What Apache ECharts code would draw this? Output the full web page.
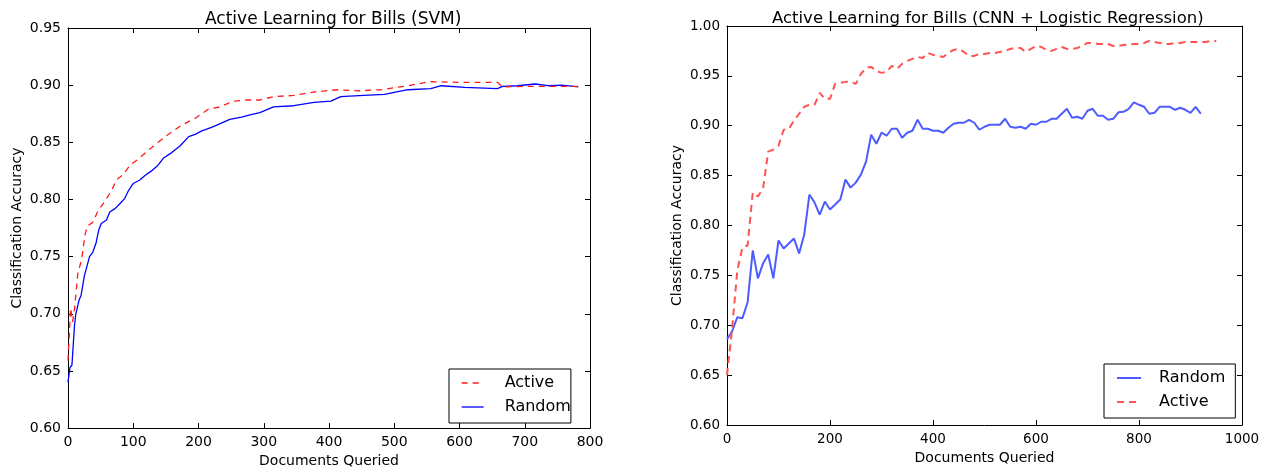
<!DOCTYPE html>
<html>
<head>
<meta charset="utf-8">
<script src="https://cdn.jsdelivr.net/npm/echarts@6/dist/echarts.min.js"></script>
<style>html,body{margin:0;padding:0;background:#fff}#c{width:1272px;height:473px}</style>
</head>
<body>
<div id="c"></div>
<script>
// ---- Left chart: Active Learning for Bills (SVM)
const svmActiveX = [0, 4, 7, 10, 15, 21, 26, 30, 38, 46, 56, 67, 74, 85, 95, 107, 123, 138, 154, 174, 195, 215, 233, 253, 274, 294, 315, 346, 377, 413, 444, 480, 521, 554, 597, 658, 666, 710, 751, 785];
const svmActiveY = [0.659, 0.705, 0.693, 0.704, 0.735, 0.748, 0.769, 0.777, 0.780, 0.790, 0.798, 0.808, 0.817, 0.822, 0.830, 0.835, 0.843, 0.850, 0.857, 0.865, 0.871, 0.879, 0.881, 0.886, 0.887, 0.887, 0.890, 0.891, 0.894, 0.896, 0.895, 0.896, 0.8995, 0.903, 0.9025, 0.9025, 0.8985, 0.899, 0.899, 0.899];
const svmRandomX = [0, 3, 6, 10, 12, 17, 20, 25, 33, 38, 43, 47, 51, 59, 64, 72, 79, 87, 92, 100, 110, 118, 128, 138, 146, 159, 172, 185, 195, 205, 220, 228, 248, 266, 279, 294, 315, 346, 377, 403, 418, 453, 485, 521, 556, 572, 608, 658, 666, 689, 716, 736, 757, 782];
const svmRandomY = [0.640, 0.653, 0.655, 0.690, 0.700, 0.712, 0.716, 0.733, 0.750, 0.754, 0.762, 0.773, 0.779, 0.782, 0.789, 0.792, 0.796, 0.801, 0.807, 0.814, 0.817, 0.821, 0.825, 0.830, 0.836, 0.841, 0.847, 0.855, 0.857, 0.860, 0.863, 0.865, 0.870, 0.872, 0.874, 0.876, 0.881, 0.882, 0.885, 0.886, 0.890, 0.891, 0.892, 0.896, 0.897, 0.8995, 0.898, 0.897, 0.899, 0.8995, 0.901, 0.8995, 0.900, 0.8985];

// ---- Right chart: Active Learning for Bills (CNN + Logistic Regression)
const cnnRandomX = [0,10,20,30,40,50,60,70,80,90,100,110,120,130,140,150,160,170,180,190,200,210,220,230,240,250,260,270,280,290,300,310,320,330,340,350,360,370,380,390,400,410,420,430,440,450,460,470,480,490,500,510,520,530,540,550,560,570,580,590,600,610,620,630,640,650,660,670,680,690,700,710,720,730,740,750,760,770,780,790,800,810,820,830,840,850,860,870,880,890,900,910,920];
const cnnRandomY = [0.686,0.694,0.708,0.707,0.723,0.775,0.747,0.762,0.771,0.747,
 0.785,0.777,0.782,0.787,0.772,0.791,0.831,0.823,0.811,0.824,
 0.816,0.821,0.826,0.846,0.838,0.843,0.851,0.864,0.891,0.882,
 0.893,0.890,0.897,0.897,0.888,0.893,0.895,0.906,0.897,0.897,
 0.895,0.895,0.893,0.898,0.902,0.903,0.903,0.906,0.903,0.896,
 0.899,0.901,0.901,0.901,0.907,0.899,0.898,0.899,0.897,0.902,
 0.901,0.904,0.904,0.907,0.907,0.912,0.917,0.908,0.909,0.907,
 0.915,0.917,0.910,0.910,0.906,0.907,0.9135,0.914,0.917,0.9235,
 0.921,0.919,0.912,0.913,0.919,0.919,0.919,0.916,0.918,0.916,
 0.913,0.919,0.912];
const cnnActiveX = [0,10,20,30,40,50,60,70,80,90,100,110,120,130,140,150,160,170,180,190,200,210,220,230,240,250,260,270,280,290,300,310,320,330,340,350,360,370,380,390,400,410,420,430,440,450,460,470,480,490,500,510,520,530,540,550,560,570,580,590,600,610,620,630,640,650,660,670,680,690,700,710,720,730,740,750,760,770,780,790,800,810,820,830,840,850,860,870,880,890,900,910,920,930,940,950];
const cnnActiveY = [0.650,0.697,0.755,0.778,0.780,0.833,0.829,0.837,0.874,0.876,
 0.880,0.896,0.897,0.905,0.912,0.919,0.921,0.921,0.933,0.927,
 0.927,0.942,0.943,0.944,0.944,0.942,0.952,0.958,0.959,0.955,
 0.953,0.954,0.960,0.957,0.962,0.965,0.967,0.969,0.968,0.973,
 0.971,0.970,0.969,0.973,0.976,0.977,0.974,0.970,0.970,0.972,
 0.972,0.973,0.973,0.974,0.975,0.977,0.978,0.978,0.974,0.977,
 0.980,0.979,0.976,0.975,0.977,0.979,0.977,0.977,0.978,0.980,
 0.983,0.983,0.982,0.982,0.982,0.980,0.980,0.981,0.9815,0.982,
 0.982,0.983,0.985,0.984,0.983,0.982,0.982,0.983,0.983,0.984,
 0.984,0.984,0.984,0.984,0.985,0.985];

const titles = ['Active Learning for Bills (SVM)', 'Active Learning for Bills (CNN + Logistic Regression)'];
const xName = 'Documents Queried';
const yName = 'Classification Accuracy';

const zip = (xs, ys) => xs.map((x, i) => [x, ys[i]]);
const FONT = 'DejaVu Sans';

function xAx(gi, min, max, interval, top, fs) {
  return {
    type: 'value', gridIndex: gi, min, max, interval,
    position: top ? 'top' : 'bottom',
    name: top ? '' : xName, nameLocation: 'middle', nameGap: 25,
    nameTextStyle: {fontFamily: FONT, fontSize: 14, color: '#000'},
    axisLine: {show: true, onZero: false, lineStyle: {color: '#000', width: 1}},
    axisTick: {show: true, inside: true, length: 5, lineStyle: {color: '#000'}},
    axisLabel: {show: !top, fontFamily: FONT, fontSize: fs, color: '#000', margin: 7, showMinLabel: true, showMaxLabel: true,
      formatter: v => String(v)},
    splitLine: {show: false}
  };
}
function yAx(gi, min, max, interval, right, fs, gap) {
  return {
    type: 'value', gridIndex: gi, min, max, interval,
    position: right ? 'right' : 'left',
    name: right ? '' : yName, nameLocation: 'middle', nameGap: gap, nameRotate: 90,
    nameTextStyle: {fontFamily: FONT, fontSize: 14, color: '#000'},
    axisLine: {show: true, onZero: false, lineStyle: {color: '#000', width: 1}},
    axisTick: {show: true, inside: true, length: 5, lineStyle: {color: '#000'}},
    axisLabel: {show: !right, fontFamily: FONT, fontSize: fs, color: '#000', margin: 7, showMinLabel: true, showMaxLabel: true,
      formatter: v => v.toFixed(2)},
    splitLine: {show: false}
  };
}

const C = {
  lBlue: '#0000ff', lRed: '#ff1a1a',
  rBlue: '#4d5cff', rRed: '#ff5252'
};

const option = {
  backgroundColor: '#fff',
  animation: false,
  title: [
    {text: titles[0], left: 200, top: 6, textStyle: {fontFamily: FONT, fontSize: 17, fontWeight: 'normal', color: '#000'}},
    {text: titles[1], left: 767, top: 5, textStyle: {fontFamily: FONT, fontSize: 16.5, fontWeight: 'normal', color: '#000'}}
  ],
  grid: [
    {left: 68, top: 28, width: 522, height: 403},
    {left: 727, top: 26, width: 515, height: 399}
  ],
  xAxis: [
    xAx(0, 0, 800, 100, false, 14),
    xAx(0, 0, 800, 100, true, 14),
    xAx(1, 0, 1000, 200, false, 13.5),
    xAx(1, 0, 1000, 200, true, 13.5)
  ],
  yAxis: [
    yAx(0, 0.60, 0.95, 0.05, false, 14, 44),
    yAx(0, 0.60, 0.95, 0.05, true, 14, 44),
    yAx(1, 0.60, 1.00, 0.05, false, 13.5, 43),
    yAx(1, 0.60, 1.00, 0.05, true, 13.5, 43)
  ],
  legend: [
    {
      show: true, orient: 'vertical', left: 449, top: 369,
      padding: [6, 0, 8, 12], itemGap: 8, itemWidth: 22, itemHeight: 14,
      borderColor: '#000', borderWidth: 1, backgroundColor: '#fff',
      itemStyle: {opacity: 0},
      textStyle: {fontFamily: FONT, fontSize: 16, color: '#000', padding: [0, 0, 0, 16]},
      data: [
        {name: 'Active', lineStyle: {color: C.lRed, type: [6, 5], width: 1.3}},
        {name: 'Random', lineStyle: {color: C.lBlue, type: 'solid', width: 1.3}}
      ]
    },
    {
      show: true, orient: 'vertical', left: 1104, top: 364,
      padding: [6, 5, 8, 12], itemGap: 8, itemWidth: 24, itemHeight: 14,
      borderColor: '#000', borderWidth: 1, backgroundColor: '#fff',
      itemStyle: {opacity: 0},
      textStyle: {fontFamily: FONT, fontSize: 16, color: '#000', padding: [0, 0, 0, 13]},
      data: [
        {name: 'Random ', lineStyle: {color: C.rBlue, type: 'solid', width: 2}},
        {name: 'Active ', lineStyle: {color: C.rRed, type: [7, 5], width: 2}}
      ]
    }
  ],
  series: [
    {name: 'Active', type: 'line', xAxisIndex: 0, yAxisIndex: 0, data: zip(svmActiveX, svmActiveY),
      showSymbol: false, symbol: 'none', z: 3,
      lineStyle: {color: C.lRed, width: 1.3, type: [6, 5]}, itemStyle: {color: C.lRed}},
    {name: 'Random', type: 'line', xAxisIndex: 0, yAxisIndex: 0, data: zip(svmRandomX, svmRandomY),
      showSymbol: false, symbol: 'none', z: 2,
      lineStyle: {color: C.lBlue, width: 1.3}, itemStyle: {color: C.lBlue}},
    {name: 'Random ', type: 'line', xAxisIndex: 2, yAxisIndex: 2, data: zip(cnnRandomX, cnnRandomY),
      showSymbol: false, symbol: 'none',
      lineStyle: {color: C.rBlue, width: 2}, itemStyle: {color: C.rBlue}},
    {name: 'Active ', type: 'line', xAxisIndex: 2, yAxisIndex: 2, data: zip(cnnActiveX, cnnActiveY),
      showSymbol: false, symbol: 'none',
      lineStyle: {color: C.rRed, width: 2, type: [7, 5]}, itemStyle: {color: C.rRed}}
  ]
};

const chart = echarts.init(document.getElementById('c'), null, {renderer: 'canvas'});
chart.setOption(option);
</script>
</body>
</html>
